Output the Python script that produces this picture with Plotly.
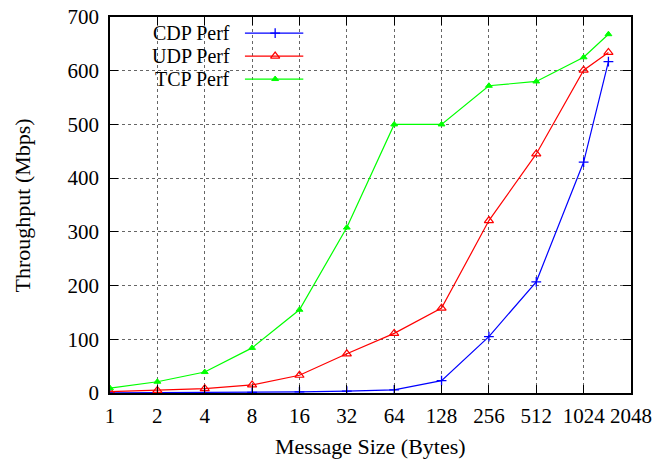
import plotly.graph_objects as go

msg_size = [1, 2, 4, 8, 16, 32, 64, 128, 256, 512, 1024, 1472]
cdp_perf = [0.3, 0.5, 0.8, 1.2, 2, 3.5, 6, 23, 105, 207, 430, 617]
udp_perf = [2.5, 4.8, 8, 15, 33, 73, 111, 158, 321, 445, 601, 634]
tcp_perf = [9, 21, 39, 84, 155, 308, 500, 500, 572, 580, 625, 668]

x_ticks = [1, 2, 4, 8, 16, 32, 64, 128, 256, 512, 1024, 2048]
y_ticks = [0, 100, 200, 300, 400, 500, 600, 700]

series = [
    ("CDP Perf", cdp_perf, "#0000ff", "cross-thin-open", 7, 1.3),
    ("UDP Perf", udp_perf, "#ff0000", "triangle-up-open", 8, 1.2),
    ("TCP Perf", tcp_perf, "#00ff00", "triangle-up", 6, 1),
]

FONT = "Liberation Serif"
fig = go.Figure()
for name, vals, color, sym, size, lw in series:
    fig.add_trace(go.Scatter(
        x=msg_size, y=vals, name=name, mode="lines+markers",
        line=dict(color=color, width=1.2),
        marker=dict(symbol=sym, size=size, color=color, line=dict(color=color, width=lw)),
        showlegend=False,
    ))

# custom gnuplot-style legend (text, then sample)
leg_y = [0.957, 0.896, 0.835]
for (name, vals, color, sym, size, lw), yy in zip(series, leg_y):
    fig.add_annotation(x=0.235, y=yy, xref="paper", yref="paper", text=name,
                       showarrow=False, xanchor="right", yanchor="middle",
                       font=dict(family=FONT, size=20, color="black"))
    fig.add_shape(type="line", xref="paper", yref="paper", x0=0.259, x1=0.371,
                  y0=yy, y1=yy, line=dict(color=color, width=1.2))
    fig.add_trace(go.Scatter(
        x=[0.317], y=[yy], xaxis="x2", yaxis="y2", mode="markers",
        marker=dict(symbol=sym, size=size, color=color, line=dict(color=color, width=lw)),
        showlegend=False, hoverinfo="skip"))

# axis titles
fig.add_annotation(x=-0.168, y=0.5, xref="paper", yref="paper", text="Throughput (Mbps)",
                   textangle=-90, showarrow=False, xanchor="center", yanchor="middle",
                   font=dict(family=FONT, size=22, color="black"))
fig.add_annotation(x=0.5, y=-0.142, xref="paper", yref="paper", text="Message Size (Bytes)",
                   showarrow=False, xanchor="center", yanchor="middle",
                   font=dict(family=FONT, size=22, color="black"))

axis_common = dict(
    showline=True, linecolor="black", linewidth=1.5, mirror="ticks",
    ticks="inside", ticklen=8, tickcolor="black", automargin=False,
    showgrid=True, gridcolor="rgba(0,0,0,0.6)", griddash="dot", gridwidth=1,
    zeroline=False, tickfont=dict(family=FONT, size=21, color="black"),
    ticklabeloverflow="allow",
)

fig.update_layout(
    width=656, height=459,
    margin=dict(l=110, r=25, t=17, b=66, autoexpand=False),
    plot_bgcolor="white", paper_bgcolor="white",
    font=dict(family=FONT, color="black"),
    xaxis=dict(type="log", range=[0, 3.31133], tickvals=x_ticks,
               ticktext=[str(v) for v in x_ticks], ticklabelstandoff=3, **axis_common),
    yaxis=dict(range=[0, 700], tickvals=y_ticks, ticklabelstandoff=5, **axis_common),
    xaxis2=dict(overlaying="x", range=[0, 1], visible=False),
    yaxis2=dict(overlaying="y", range=[0, 1], visible=False),
)

fig.write_html("out.html", config={"displayModeBar": False},
               post_script="document.body.style.margin='0';document.body.style.overflow='hidden';")
